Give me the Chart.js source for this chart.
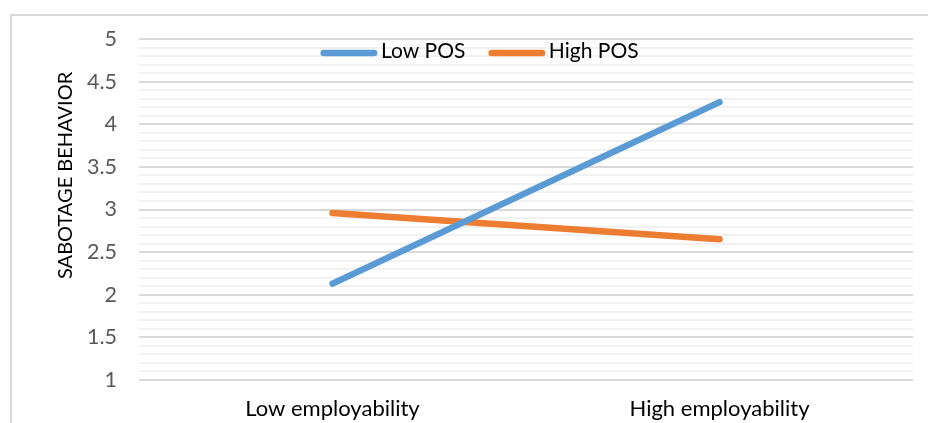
<!DOCTYPE html>
<html>
<head>
<meta charset="utf-8">
<script src="https://cdn.jsdelivr.net/npm/chart.js@4.4.1/dist/chart.umd.min.js"></script>
<style>
html, body { margin: 0; padding: 0; background: #fff; overflow: hidden; }
#wrap { position: relative; width: 928px; height: 423px; }
#frame { position: absolute; left: 10px; top: 14px; width: 939px; height: 1000px; border: 2px solid #d9d9d9; box-sizing: border-box; }
canvas { position: absolute; left: 0; top: 0; }
</style>
</head>
<body>
<div id="wrap">
  <div id="frame"></div>
  <canvas id="c" width="928" height="423"></canvas>
</div>
<script>
// Interaction plot: sabotage behavior by employability, split by perceived organizational support
const categories = ['Low employability', 'High employability'];
const lowPOS = [2.13, 4.26];
const highPOS = [2.96, 2.65];
const seriesNames = ['Low POS', 'High POS'];
const seriesColors = ['#5B9BD5', '#ED7D31'];
const yMin = 1, yMax = 5, yMajor = 0.5, yMinor = 0.1;
const yTitle = 'SABOTAGE BEHAVIOR';

const FONT = 'Lato, "Open Sans", sans-serif';
const FRAME = { left: 10, right: 949 };   // outer chart frame (extends past the right edge)

// Legend drawn as a single row inside the top of the plot, centered on the frame
const lineLegend = {
  id: 'lineLegend',
  afterDatasetsDraw(chart) {
    const ctx = chart.ctx;
    const area = chart.chartArea;
    const sw = 50.5, cap = 3.25, gapText = 3.5, gapItem = 23;
    ctx.save();
    ctx.font = '21px ' + FONT;
    const items = chart.data.datasets.map(ds => ({
      label: ds.label, color: ds.borderColor, w: ctx.measureText(ds.label).width
    }));
    let total = 0;
    items.forEach((it, i) => { total += cap * 2 + sw + gapText + it.w + (i < items.length - 1 ? gapItem : 0); });
    let x = (FRAME.left + FRAME.right) / 2 - total / 2;
    const yLine = area.top + 14, yText = area.top + 12.5;
    items.forEach(it => {
      ctx.strokeStyle = it.color;
      ctx.lineWidth = 6.5;
      ctx.lineCap = 'round';
      ctx.beginPath();
      ctx.moveTo(x + cap, yLine);
      ctx.lineTo(x + cap + sw, yLine);
      ctx.stroke();
      x += cap * 2 + sw + gapText;
      ctx.fillStyle = '#000';
      ctx.textAlign = 'left';
      ctx.textBaseline = 'middle';
      ctx.fillText(it.label, x, yText);
      x += it.w + gapItem;
    });
    ctx.restore();
  }
};

// Rotated title for the value axis
const axisTitle = {
  id: 'axisTitle',
  afterDraw(chart) {
    const ctx = chart.ctx;
    const area = chart.chartArea;
    ctx.save();
    ctx.translate(65.5, area.top + (area.bottom - area.top) * 0.4);
    ctx.rotate(-Math.PI / 2);
    ctx.font = '20px ' + FONT;
    ctx.fillStyle = '#000';
    ctx.textAlign = 'center';
    ctx.textBaseline = 'middle';
    ctx.fillText(yTitle, 0, 0);
    ctx.restore();
  }
};

const isMajor = v => Math.abs(v / yMajor - Math.round(v / yMajor)) < 1e-6;

new Chart(document.getElementById('c'), {
  type: 'line',
  data: {
    labels: categories,
    datasets: [
      { label: seriesNames[0], data: lowPOS, borderColor: seriesColors[0], backgroundColor: seriesColors[0],
        borderWidth: 6.5, borderCapStyle: 'round', pointRadius: 0, tension: 0, fill: false },
      { label: seriesNames[1], data: highPOS, borderColor: seriesColors[1], backgroundColor: seriesColors[1],
        borderWidth: 6.5, borderCapStyle: 'round', pointRadius: 0, tension: 0, fill: false }
    ]
  },
  options: {
    responsive: false,
    animation: false,
    events: [],
    layout: { padding: { left: 0, right: 15, top: 39, bottom: 0 } },
    plugins: { legend: { display: false }, tooltip: { enabled: false }, title: { display: false } },
    scales: {
      x: {
        offset: true,
        grid: { display: false, drawTicks: false },
        border: { display: false },
        ticks: { color: '#000', font: { family: FONT, size: 22 }, padding: 16, maxRotation: 0, autoSkip: false },
        afterFit(scale) { scale.height = 43; }
      },
      y: {
        min: yMin, max: yMax,
        grid: {
          drawTicks: false,
          lineWidth: 2,
          color: c => isMajor(c.tick.value) ? '#d9d9d9' : '#f2f2f2'
        },
        border: { display: false },
        ticks: {
          stepSize: yMinor,
          autoSkip: false,
          color: '#595959',
          font: { family: FONT, size: 21.5 },
          padding: 22,
          callback: v => isMajor(v) ? String(Math.round(v * 10) / 10) : ''
        },
        afterFit(scale) { scale.width = 139; }
      }
    }
  },
  plugins: [lineLegend, axisTitle]
});
</script>
</body>
</html>
